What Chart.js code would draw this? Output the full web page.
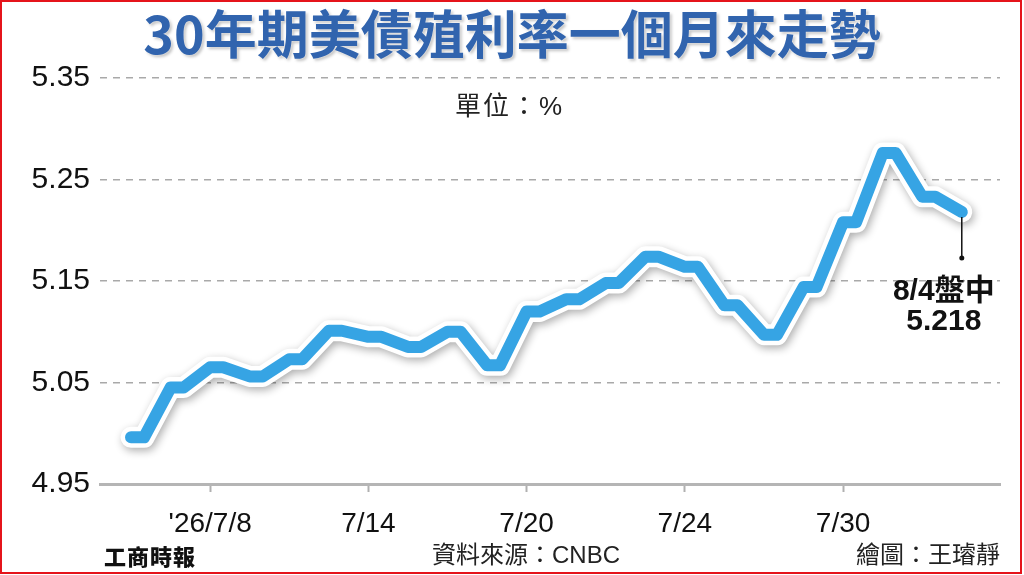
<!DOCTYPE html>
<html lang="zh-Hant">
<head>
<meta charset="utf-8">
<title>30年期美債殖利率一個月來走勢</title>
<script src="https://cdn.jsdelivr.net/npm/chart.js@4/dist/chart.umd.min.js"></script>
<style>
    html, body { margin: 0; padding: 0; background: #fff; }
    #page { position: relative; width: 1024px; height: 575px; overflow: hidden; background: #fff; }
    #frame { position: absolute; left: 0; top: 0; width: 1018px; height: 570px; border: 2px solid #e5141b; }
    #chart { position: absolute; left: 0; top: 0; }
    .txt { position: absolute; white-space: nowrap; font-family: "Liberation Sans", "Noto Sans CJK TC", sans-serif; color: #222; }
    #title {
        left: 0; width: 1024px; top: 6px; text-align: center;
        font-family: "Noto Sans CJK TC", sans-serif; font-weight: 700; font-size: 52px; line-height: 52px;
        color: #3164ae;
        text-shadow: 0 0 2px #fff, 2px 2px 3px rgba(0, 0, 0, 0.25);
    }
    #unit { left: 455px; top: 90px; font-size: 26px; line-height: 32px; letter-spacing: 2px; }
    #logo { left: 104px; top: 541px; font-family: "Noto Sans CJK TC", sans-serif; font-weight: 900; font-size: 22px; line-height: 28px; letter-spacing: 1px; color: #111; }
    #source { left: 432px; top: 540px; font-size: 24px; line-height: 30px; }
    #author { right: 24px; top: 540px; font-size: 24px; line-height: 30px; }
</style>
</head>
<body>
<div id="page">
    <canvas id="chart" width="1024" height="575"></canvas>
    <div id="title" class="txt">30年期美債殖利率一個月來走勢</div>
    <div id="unit" class="txt">單位：%</div>
    <div id="logo" class="txt">工商時報</div>
    <div id="source" class="txt">資料來源：CNBC</div>
    <div id="author" class="txt">繪圖：王璿靜</div>
    <div id="frame"></div>
</div>
<script>
// 交易日（2026年）
const dates = ['7/6', '7/7', '7/8', '7/9', '7/10', '7/13', '7/14', '7/15', '7/16', '7/17',
    '7/20', '7/21', '7/22', '7/23', '7/24', '7/27', '7/28', '7/29', '7/30', '7/31', '8/3', '8/4'];
// 30年期美債殖利率 (%)
const yields = [4.996, 5.045, 5.065, 5.056, 5.073, 5.101, 5.095, 5.085, 5.100, 5.067,
    5.120, 5.132, 5.148, 5.174, 5.164, 5.126, 5.097, 5.144, 5.208, 5.276, 5.233, 5.218];
// x 軸標籤
const tickDates = ['7/8', '7/14', '7/20', '7/24', '7/30'];
const tickLabels = ["'26/7/8", '7/14', '7/20', '7/24', '7/30'];
// y 軸刻度
const yTicks = [4.95, 5.05, 5.15, 5.25, 5.35];

const BLUE = '#36a4e4';
const last = yields.length - 1;
// 每個交易日畫成一小段平台（最後一天只有一點）
const PLATEAU = 0.33;
const points = [];
yields.forEach((v, i) => {
    points.push({ x: i, y: v });
    if (i < last) points.push({ x: i + PLATEAU, y: v });
});

// 白色外框的陰影
const shadowPlugin = {
    id: 'lineShadow',
    beforeDatasetDraw(chart, args) {
        if (args.index !== 1) return;
        const ctx = chart.ctx;
        ctx.save();
        ctx.shadowColor = 'rgba(0, 0, 0, 0.32)';
        ctx.shadowBlur = 8;
        ctx.shadowOffsetX = 2;
        ctx.shadowOffsetY = 3;
    },
    afterDatasetDraw(chart, args) {
        if (args.index === 1) chart.ctx.restore();
    }
};

// 最後一點的標註（8/4盤中）
const lastLabelPlugin = {
    id: 'lastLabel',
    afterDatasetsDraw(chart) {
        const data = chart.getDatasetMeta(0).data;
        const pt = data[data.length - 1];
        const ctx = chart.ctx;
        ctx.save();
        ctx.strokeStyle = '#111';
        ctx.fillStyle = '#111';
        ctx.lineWidth = 1.5;
        ctx.beginPath();
        ctx.moveTo(pt.x, pt.y + 5);
        ctx.lineTo(pt.x, pt.y + 46);
        ctx.stroke();
        ctx.beginPath();
        ctx.arc(pt.x, pt.y + 46, 2.5, 0, Math.PI * 2);
        ctx.fill();
        ctx.font = 'bold 30px "Liberation Sans", "Noto Sans CJK TC", sans-serif';
        ctx.textAlign = 'center';
        ctx.textBaseline = 'middle';
        ctx.fillText(dates[last] + '盤中', pt.x - 18, pt.y + 80);
        ctx.fillText(yields[last].toFixed(3), pt.x - 18, pt.y + 110);
        ctx.restore();
    }
};

new Chart(document.getElementById('chart').getContext('2d'), {
    type: 'line',
    data: {
        datasets: [{
            // 藍色主線
            data: points,
            borderColor: BLUE,
            borderWidth: 12,
            borderJoinStyle: 'round',
            borderCapStyle: 'round',
            pointRadius: 0,
            tension: 0,
            order: 0
        }, {
            // 白色外框
            data: points,
            borderColor: '#fff',
            borderWidth: 21,
            borderJoinStyle: 'round',
            borderCapStyle: 'round',
            pointRadius: 0,
            tension: 0,
            order: 1
        }]
    },
    options: {
        responsive: false,
        animation: false,
        events: [],
        layout: { padding: { top: 78, right: 24, bottom: 35, left: 0 } },
        plugins: {
            legend: { display: false },
            tooltip: { enabled: false }
        },
        scales: {
            x: {
                type: 'linear',
                min: -0.784,
                max: 21.966,
                afterBuildTicks: (axis) => {
                    axis.ticks = tickDates.map(d => ({ value: dates.indexOf(d) }));
                },
                afterFit: (axis) => { axis.height = 56; },
                ticks: {
                    callback: (v, i) => tickLabels[i],
                    color: '#111',
                    padding: 15,
                    maxRotation: 0,
                    autoSkip: false,
                    font: { family: '"Liberation Sans", Arial, sans-serif', size: 28 }
                },
                grid: {
                    drawOnChartArea: false,
                    drawTicks: true,
                    tickLength: 8,
                    tickColor: '#b0b0b0',
                    tickWidth: 2
                },
                border: { display: true, color: '#b5b5b5', width: 3 }
            },
            y: {
                min: 4.95,
                max: 5.35,
                afterBuildTicks: (axis) => {
                    axis.ticks = yTicks.map(v => ({ value: v }));
                },
                afterFit: (axis) => { axis.width = 100; },
                ticks: {
                    callback: (v) => v.toFixed(2),
                    color: '#111',
                    padding: 10,
                    font: { family: '"Liberation Sans", Arial, sans-serif', size: 30 }
                },
                grid: {
                    drawTicks: false,
                    color: (ctx) => ctx.index === 0 ? 'rgba(0,0,0,0)' : '#a9a9a9',
                    lineWidth: 1.5
                },
                border: { display: false, dash: [7, 6] }
            }
        }
    },
    plugins: [shadowPlugin, lastLabelPlugin]
});
</script>
</body>
</html>
